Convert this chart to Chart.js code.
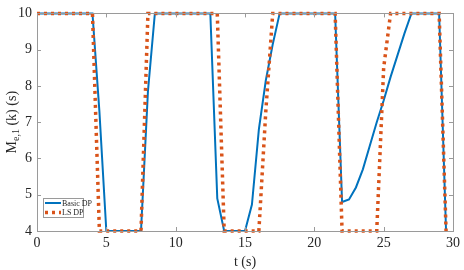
<!DOCTYPE html>
<html>
<head>
<meta charset="utf-8">
<script src="https://cdn.jsdelivr.net/npm/chart.js@4"></script>
<style>
  html, body { margin: 0; padding: 0; background: #fff; }
  #wrap { width: 464px; height: 270px; }
</style>
</head>
<body>
<div id="wrap"><canvas id="dp-chart"></canvas></div>
<script>
// time samples (s)
var tSec = [0, 0.5, 1, 1.5, 2, 2.5, 3, 3.5, 4, 4.5,
  5, 5.5, 6, 6.5, 7, 7.5, 8, 8.5, 9, 9.5,
  10, 10.5, 11, 11.5, 12, 12.5, 13, 13.5, 14, 14.5,
  15, 15.5, 16, 16.5, 17, 17.5, 18, 18.5, 19, 19.5,
  20, 20.5, 21, 21.5, 22, 22.5, 23, 23.5, 24, 24.5,
  25, 25.5, 26, 26.5, 27, 27.5, 28, 28.5, 29, 29.5];

var basicDP = [10, 10, 10, 10, 10, 10, 10, 10, 10, 7.3,
  4, 4, 4, 4, 4, 4, 7.85, 10, 10, 10,
  10, 10, 10, 10, 10, 10, 4.9, 4, 4, 4,
  4, 4.73, 6.8, 8.15, 9.15, 10, 10, 10, 10, 10,
  10, 10, 10, 10, 4.8, 4.87, 5.2, 5.7, 6.35, 7.0,
  7.6, 8.25, 8.85, 9.45, 10, 10, 10, 10, 10, 4];

var lsDP = [10, 10, 10, 10, 10, 10, 10, 10, 10, 4,
  4, 4, 4, 4, 4, 4, 10, 10, 10, 10,
  10, 10, 10, 10, 10, 10, 10, 4, 4, 4,
  4, 4, 4, 7.3, 10, 10, 10, 10, 10, 10,
  10, 10, 10, 10, 4, 4, 4, 4, 4, 4,
  8.5, 10, 10, 10, 10, 10, 10, 10, 10, 4];

var xTicks = [0, 5, 10, 15, 20, 25, 30];
var yTicks = [4, 5, 6, 7, 8, 9, 10];

var blue = '#0072BD';
var orange = '#D95319';
var axisGray = '#9a9a9a';
var textGray = '#262626';
var serif = '"Liberation Serif", "DejaVu Serif", serif';

function toPoints(values) {
  return tSec.map(function (t, i) { return { x: t, y: values[i] }; });
}

// box, inward ticks, axis titles and legend, MATLAB style
var matlabAxes = {
  id: 'matlabAxes',
  afterDraw: function (chart) {
    var ctx = chart.ctx;
    var a = chart.chartArea;
    var xs = chart.scales.x;
    var ys = chart.scales.y;
    var tl = 4;
    ctx.save();
    ctx.strokeStyle = axisGray;
    ctx.lineWidth = 1;
    ctx.beginPath();
    xTicks.forEach(function (v) {
      var px = Math.round(xs.getPixelForValue(v)) + 0.5;
      ctx.moveTo(px, a.bottom); ctx.lineTo(px, a.bottom - tl);
      ctx.moveTo(px, a.top); ctx.lineTo(px, a.top + tl);
    });
    yTicks.forEach(function (v) {
      var py = Math.round(ys.getPixelForValue(v)) + 0.5;
      ctx.moveTo(a.left, py); ctx.lineTo(a.left + tl, py);
      ctx.moveTo(a.right, py); ctx.lineTo(a.right - tl, py);
    });
    ctx.stroke();
    ctx.strokeRect(Math.round(a.left) + 0.5, Math.round(a.top) + 0.5,
      Math.round(a.right - a.left), Math.round(a.bottom - a.top));

    // x title
    ctx.fillStyle = textGray;
    ctx.font = '14px ' + serif;
    ctx.textAlign = 'center';
    ctx.textBaseline = 'middle';
    ctx.fillText('t (s)', (a.left + a.right) / 2, 262);

    // y title with subscript
    ctx.translate(11, (a.top + a.bottom) / 2);
    ctx.rotate(-Math.PI / 2);
    ctx.textAlign = 'left';
    ctx.textBaseline = 'alphabetic';
    var big = '14px ' + serif;
    var small = '10px ' + serif;
    ctx.font = big;
    var wM = ctx.measureText('M').width;
    var wRest = ctx.measureText(' (k) (s)').width;
    ctx.font = small;
    var wSub = ctx.measureText('e,1').width;
    var x0 = -(wM + wSub + wRest) / 2;
    ctx.font = big;
    ctx.fillText('M', x0, 5);
    ctx.font = small;
    ctx.fillText('e,1', x0 + wM, 8);
    ctx.font = big;
    ctx.fillText(' (k) (s)', x0 + wM + wSub, 5);
    ctx.restore();

    // legend box
    ctx.save();
    ctx.fillStyle = '#fff';
    ctx.strokeStyle = axisGray;
    ctx.lineWidth = 1;
    ctx.fillRect(43, 198, 40, 19);
    ctx.strokeRect(43.5, 198.5, 40, 19);
    ctx.font = '8px ' + serif;
    ctx.fillStyle = textGray;
    ctx.textAlign = 'left';
    ctx.textBaseline = 'middle';
    chart.data.datasets.forEach(function (ds, i) {
      var y = 203 + i * 9.5;
      ctx.strokeStyle = ds.borderColor;
      ctx.lineWidth = ds.borderWidth;
      ctx.setLineDash(ds.borderDash || []);
      ctx.beginPath();
      ctx.moveTo(45, y);
      ctx.lineTo(61, y);
      ctx.stroke();
      ctx.setLineDash([]);
      ctx.fillText(ds.label, 62, y + 0.5);
    });
    ctx.restore();
  }
};

var chart = new Chart(document.getElementById('dp-chart'), {
  type: 'line',
  data: {
    datasets: [{
      label: 'Basic DP',
      data: toPoints(basicDP),
      borderColor: blue,
      borderWidth: 2,
      pointRadius: 0,
      tension: 0,
      clip: 4,
      order: 1
    }, {
      label: 'LS DP',
      data: toPoints(lsDP),
      borderColor: orange,
      borderWidth: 3.5,
      borderDash: [3, 4],
      borderCapStyle: 'butt',
      pointRadius: 0,
      tension: 0,
      clip: 4,
      order: 0
    }]
  },
  options: {
    responsive: true,
    maintainAspectRatio: false,
    animation: false,
    devicePixelRatio: 1,
    layout: { padding: { top: 4, right: 6, left: 0, bottom: 0 } },
    plugins: {
      legend: { display: false },
      tooltip: { enabled: false }
    },
    scales: {
      x: {
        type: 'linear',
        min: 0,
        max: 30,
        afterBuildTicks: function (scale) {
          scale.ticks = xTicks.map(function (v) { return { value: v }; });
        },
        afterFit: function (scale) { scale.height = 39; },
        grid: { display: false, drawTicks: false },
        border: { display: false },
        ticks: {
          color: textGray,
          padding: 4,
          maxRotation: 0,
          font: { family: serif, size: 14 }
        }
      },
      y: {
        min: 4,
        max: 10,
        afterBuildTicks: function (scale) {
          scale.ticks = yTicks.map(function (v) { return { value: v }; });
        },
        afterFit: function (scale) { scale.width = 37; },
        grid: { display: false, drawTicks: false },
        border: { display: false },
        ticks: {
          color: textGray,
          padding: 5,
          font: { family: serif, size: 14 }
        }
      }
    }
  },
  plugins: [matlabAxes]
});
</script>
</body>
</html>
